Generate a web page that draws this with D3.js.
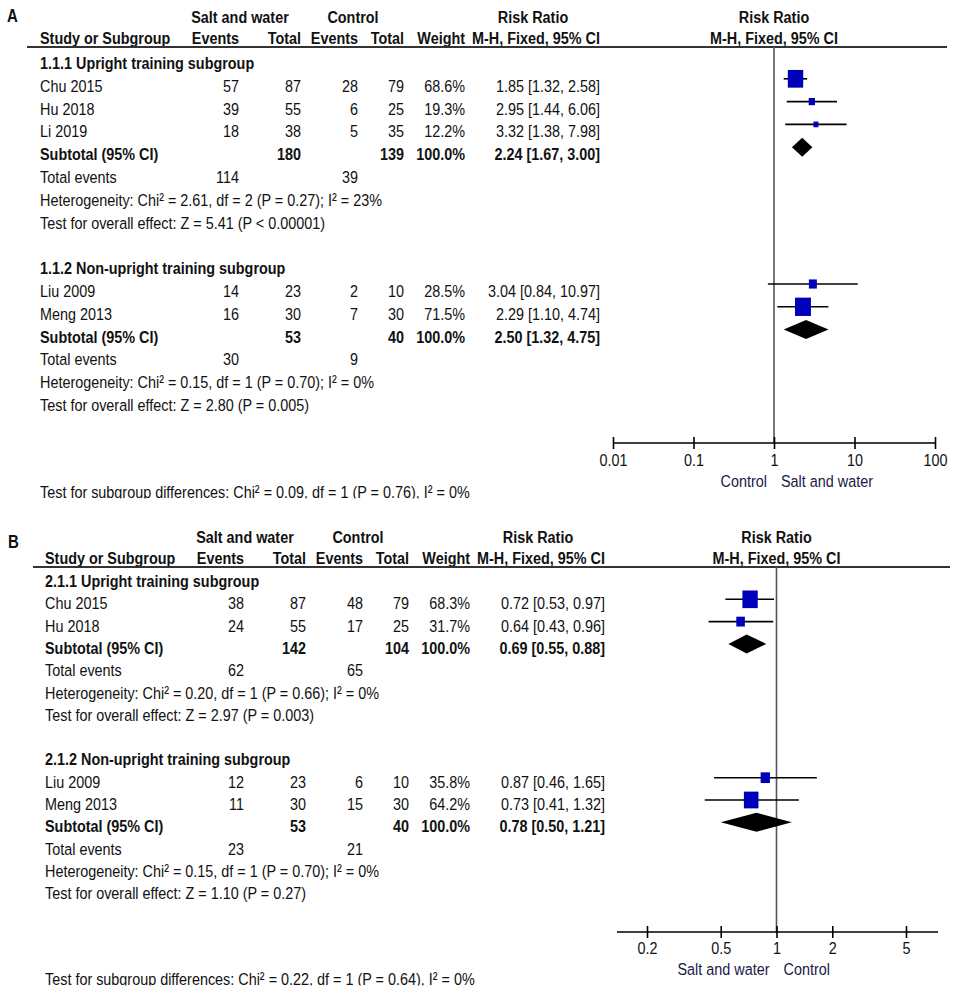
<!DOCTYPE html>
<html>
<head>
<meta charset="utf-8">
<style>
    body { margin: 0; background: #fff; }
    svg text { font-family: "Liberation Sans", Arial, sans-serif; fill: #111; }
</style>
</head>
<body>
<div id="chart"></div>
<script src="https://cdnjs.cloudflare.com/ajax/libs/d3/7.8.5/d3.min.js"></script>
<script>
/* -----------------------------------
    data : panel A
----------------------------------- */
var studyA   = ["Chu 2015", "Hu 2018", "Li 2019", "Liu 2009", "Meng 2013"];
var groupA   = [0, 0, 0, 1, 1];
var expEvA   = [57, 39, 18, 14, 16];
var expNA    = [87, 55, 38, 23, 30];
var ctlEvA   = [28, 6, 5, 2, 7];
var ctlNA    = [79, 25, 35, 10, 30];
var weightA  = [68.6, 19.3, 12.2, 28.5, 71.5];
var rrA      = [1.85, 2.95, 3.32, 3.04, 2.29];
var loA      = [1.32, 1.44, 1.38, 0.84, 1.10];
var hiA      = [2.58, 6.06, 7.98, 10.97, 4.74];

var subNameA  = ["1.1.1 Upright training subgroup", "1.1.2 Non-upright training subgroup"];
var subExpNA  = [180, 53];
var subCtlNA  = [139, 40];
var subEvExpA = [114, 30];
var subEvCtlA = [39, 9];
var subRRA    = [2.24, 2.50];
var subLoA    = [1.67, 1.32];
var subHiA    = [3.00, 4.75];
var hetA = ["Heterogeneity: Chi\u00b2 = 2.61, df = 2 (P = 0.27); I\u00b2 = 23%",
            "Heterogeneity: Chi\u00b2 = 0.15, df = 1 (P = 0.70); I\u00b2 = 0%"];
var effA = ["Test for overall effect: Z = 5.41 (P < 0.00001)",
            "Test for overall effect: Z = 2.80 (P = 0.005)"];
var diffA = "Test for subgroup differences: Chi\u00b2 = 0.09, df = 1 (P = 0.76), I\u00b2 = 0%";
var ticksA = [0.01, 0.1, 1, 10, 100];
var tickLabelsA = ["0.01", "0.1", "1", "10", "100"];
var favoursA = ["Control", "Salt and water"];

/* -----------------------------------
    data : panel B
----------------------------------- */
var studyB   = ["Chu 2015", "Hu 2018", "Liu 2009", "Meng 2013"];
var groupB   = [0, 0, 1, 1];
var expEvB   = [38, 24, 12, 11];
var expNB    = [87, 55, 23, 30];
var ctlEvB   = [48, 17, 6, 15];
var ctlNB    = [79, 25, 10, 30];
var weightB  = [68.3, 31.7, 35.8, 64.2];
var rrB      = [0.72, 0.64, 0.87, 0.73];
var loB      = [0.53, 0.43, 0.46, 0.41];
var hiB      = [0.97, 0.96, 1.65, 1.32];

var subNameB  = ["2.1.1 Upright training subgroup", "2.1.2 Non-upright training subgroup"];
var subExpNB  = [142, 53];
var subCtlNB  = [104, 40];
var subEvExpB = [62, 23];
var subEvCtlB = [65, 21];
var subRRB    = [0.69, 0.78];
var subLoB    = [0.55, 0.50];
var subHiB    = [0.88, 1.21];
var hetB = ["Heterogeneity: Chi\u00b2 = 0.20, df = 1 (P = 0.66); I\u00b2 = 0%",
            "Heterogeneity: Chi\u00b2 = 0.15, df = 1 (P = 0.70); I\u00b2 = 0%"];
var effB = ["Test for overall effect: Z = 2.97 (P = 0.003)",
            "Test for overall effect: Z = 1.10 (P = 0.27)"];
var diffB = "Test for subgroup differences: Chi\u00b2 = 0.22, df = 1 (P = 0.64), I\u00b2 = 0%";
var ticksB = [0.2, 0.5, 1, 2, 5];
var tickLabelsB = ["0.2", "0.5", "1", "2", "5"];
var favoursB = ["Salt and water", "Control"];

var headTop  = ["Salt and water", "Control", "Risk Ratio", "Risk Ratio"];
var headCols = ["Study or Subgroup", "Events", "Total", "Events", "Total", "Weight",
                "M-H, Fixed, 95% CI", "M-H, Fixed, 95% CI"];

/* -----------------------------------
    initialize
----------------------------------- */
var width = 957, height = 993;
var FS = 14.4, SY = 1.18;   // text is tall and narrow in the source picture
var BLUE = "#0000bb";

var svg = d3.select("#chart").append("svg")
    .attr("width", width)
    .attr("height", height);

// column anchors (local to each panel)
var col = {study: 40, ev1: 239, n1: 301, ev2: 358, n2: 404, w: 465, rr: 600};

var sizeScale = d3.scaleLinear().domain([0, 100]).range([2.7, 21.2]);

function label(g, x, y, s, anchor, bold, color) {
    return g.append("text")
        .attr("transform", "translate(" + x + "," + y + ") scale(1," + SY + ")")
        .attr("text-anchor", anchor || "start")
        .style("font-size", FS + "px")
        .style("font-weight", bold ? "bold" : "normal")
        .style("fill", color || null)
        .text(s);
}

function ci(rr, lo, hi) {
    return rr.toFixed(2) + " [" + lo.toFixed(2) + ", " + hi.toFixed(2) + "]";
}

/* -----------------------------------
    one forest panel
----------------------------------- */
function drawPanel(L, D, id) {
    var g = svg.append("g").attr("transform", "translate(" + L.dx + ",0)");
    var x = d3.scaleLog().domain(L.domain).range(L.range);
    var yc = function(i) { return L.row0 + i * L.step; };

    // panel letter + headers
    label(g, L.letterX, L.letterY, D.letter, "start", true).style("font-size", "15px");
    label(g, col.study + 200, L.head1, headTop[0], "middle", true);
    label(g, 353, L.head1, headTop[1], "middle", true);
    label(g, 533, L.head1, headTop[2], "middle", true);
    label(g, x(1), L.head1, headTop[3], "middle", true);

    var colX = [col.study, col.ev1, col.n1, col.ev2, col.n2, col.w, col.rr];
    headCols.forEach(function(h, i) {
        if (i === 0) label(g, colX[0], L.head2, h, "start", true);
        else if (i < 7) label(g, colX[i], L.head2, h, "end", true);
        else label(g, x(1), L.head2, h, "middle", true);
    });

    g.append("line")
        .attr("x1", L.rule[0]).attr("x2", L.rule[1])
        .attr("y1", L.ruleY).attr("y2", L.ruleY)
        .attr("stroke", "#333").attr("stroke-width", 2);

    // null line
    g.append("line")
        .attr("x1", x(1)).attr("x2", x(1))
        .attr("y1", L.ruleY).attr("y2", L.axisY)
        .attr("stroke", "#555").attr("stroke-width", 1.6);

    var idx = 0;
    [0, 1].forEach(function(gi) {
        label(g, col.study, yc(idx) + 6, D.subName[gi], "start", true);
        idx++;

        D.study.forEach(function(s, i) {
            if (D.group[i] !== gi) return;
            var b = yc(idx) + 6, my = yc(idx) + L.markDy;
            label(g, col.study, b, s);
            label(g, col.ev1, b, D.expEv[i], "end");
            label(g, col.n1, b, D.expN[i], "end");
            label(g, col.ev2, b, D.ctlEv[i], "end");
            label(g, col.n2, b, D.ctlN[i], "end");
            label(g, col.w, b, D.weight[i].toFixed(1) + "%", "end");
            label(g, col.rr, b, ci(D.rr[i], D.lo[i], D.hi[i]), "end");

            g.append("line")
                .attr("x1", x(D.lo[i])).attr("x2", x(D.hi[i]))
                .attr("y1", my).attr("y2", my)
                .attr("stroke", "#000").attr("stroke-width", 1.6);
            var sw = sizeScale(D.weight[i]), sh = sw * 1.15;
            g.append("rect")
                .attr("x", x(D.rr[i]) - sw / 2).attr("y", my - sh / 2)
                .attr("width", sw).attr("height", sh)
                .attr("fill", BLUE);
            idx++;
        });

        // subtotal
        var b = yc(idx) + 6, my = yc(idx) + L.markDy;
        label(g, col.study, b, "Subtotal (95% CI)", "start", true);
        label(g, col.n1, b, D.subExpN[gi], "end", true);
        label(g, col.n2, b, D.subCtlN[gi], "end", true);
        label(g, col.w, b, "100.0%", "end", true);
        label(g, col.rr, b, ci(D.subRR[gi], D.subLo[gi], D.subHi[gi]), "end", true);
        g.append("path")
            .attr("d", d3.line()([
                [x(D.subLo[gi]), my], [x(D.subRR[gi]), my - 9.5],
                [x(D.subHi[gi]), my], [x(D.subRR[gi]), my + 9.5]]) + "Z")
            .attr("fill", "#000");
        idx++;

        b = yc(idx) + 6;
        label(g, col.study, b, "Total events");
        label(g, col.ev1, b, D.subEvExp[gi], "end");
        label(g, col.ev2, b, D.subEvCtl[gi], "end");
        idx++;
        label(g, col.study, yc(idx) + 6, D.het[gi]);
        idx++;
        label(g, col.study, yc(idx) + 6, D.eff[gi]);
        idx++;
        idx++; // blank row between subgroups
    });

    // axis
    var axis = d3.axisBottom(x)
        .tickValues(D.ticks)
        .tickFormat(function(d, i) { return D.tickLabels[i]; })
        .tickSize(6).tickSizeOuter(0);
    var ag = g.append("g")
        .attr("transform", "translate(0," + L.axisY + ")")
        .call(axis)
        .attr("font-family", null).attr("font-size", null);
    ag.select(".domain").remove();
    ag.selectAll(".tick line")
        .attr("y1", -6).attr("y2", 6)
        .attr("stroke", "#000").attr("stroke-width", 1.6);
    ag.selectAll(".tick text")
        .attr("y", null).attr("dy", null)
        .attr("transform", "translate(0," + L.tickDy + ") scale(1," + SY + ")")
        .style("font-size", FS + "px");
    g.append("line")
        .attr("x1", L.axisExt[0]).attr("x2", L.axisExt[1])
        .attr("y1", L.axisY).attr("y2", L.axisY)
        .attr("stroke", "#000").attr("stroke-width", 1.6);

    label(g, x(1) - 7, L.axisY + L.favDy, D.favours[0], "end", false, "#1a1a48");
    label(g, x(1) + 7, L.axisY + L.favDy, D.favours[1], "start", false, "#1a1a48");

    // bottom line is cut off in the source crop
    svg.append("clipPath").attr("id", id)
        .append("rect").attr("x", -10).attr("y", 0)
        .attr("width", width).attr("height", L.diffY + 0.5);
    var cg = g.append("g").attr("clip-path", "url(#" + id + ")");
    label(cg, col.study, L.diffY, D.diff);
}

drawPanel(
    {dx: 0, domain: [0.01, 100], range: [613, 935], axisExt: [613, 935],
     letterX: 7, letterY: 22, head1: 23, head2: 44, ruleY: 47, rule: [27, 947],
     row0: 63, step: 22.8, markDy: -7, axisY: 443, tickDy: 23, favDy: 44, diffY: 498},
    {letter: "A", study: studyA, group: groupA, expEv: expEvA, expN: expNA, ctlEv: ctlEvA,
     ctlN: ctlNA, weight: weightA, rr: rrA, lo: loA, hi: hiA, subName: subNameA,
     subExpN: subExpNA, subCtlN: subCtlNA, subEvExp: subEvExpA, subEvCtl: subEvCtlA,
     subRR: subRRA, subLo: subLoA, subHi: subHiA, het: hetA, eff: effA, diff: diffA,
     ticks: ticksA, tickLabels: tickLabelsA, favours: favoursA},
    "clipA");

drawPanel(
    {dx: 5, domain: [0.2, 5], range: [642, 901], axisExt: [612, 933],
     letterX: 3, letterY: 548, head1: 543, head2: 564, ruleY: 567, rule: [28, 945],
     row0: 581, step: 22.3, markDy: -4, axisY: 932, tickDy: 22, favDy: 43, diffY: 985},
    {letter: "B", study: studyB, group: groupB, expEv: expEvB, expN: expNB, ctlEv: ctlEvB,
     ctlN: ctlNB, weight: weightB, rr: rrB, lo: loB, hi: hiB, subName: subNameB,
     subExpN: subExpNB, subCtlN: subCtlNB, subEvExp: subEvExpB, subEvCtl: subEvCtlB,
     subRR: subRRB, subLo: subLoB, subHi: subHiB, het: hetB, eff: effB, diff: diffB,
     ticks: ticksB, tickLabels: tickLabelsB, favours: favoursB},
    "clipB");
</script>
</body>
</html>
